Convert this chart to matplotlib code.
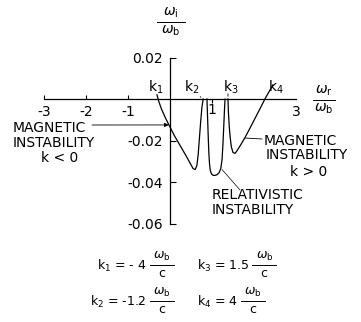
import matplotlib
matplotlib.use("Agg")
import matplotlib.pyplot as plt
import matplotlib.transforms as mtransforms

plt.rcParams['font.family'] = ['DejaVu Sans']
plt.rcParams['mathtext.fontset'] = 'dejavusans'

# growth rate w_i/w_b against real frequency w_r/w_b
mag_neg_wr = [-0.31, -0.27, -0.2, -0.1, 0.0, 0.1, 0.2, 0.3, 0.4, 0.48, 0.55, 0.6,
              0.64, 0.67, 0.7, 0.73, 0.76, 0.79]
mag_neg_wi = [0.002, -0.001, -0.005, -0.0095, -0.0135, -0.0175, -0.021, -0.0245,
              -0.028, -0.031, -0.0335, -0.034, -0.032, -0.027, -0.019, -0.011,
              -0.004, 0.0]

rel_wr = [0.88, 0.895, 0.91, 0.925, 0.94, 0.96, 0.99, 1.03, 1.07, 1.12, 1.17,
          1.21, 1.24, 1.26, 1.28, 1.30, 1.31]
rel_wi = [0.0, -0.009, -0.018, -0.026, -0.031, -0.0345, -0.0362, -0.0368,
          -0.0368, -0.0365, -0.0355, -0.0335, -0.029, -0.022, -0.013, -0.004, 0.0]

mag_pos_wr = [1.38, 1.39, 1.41, 1.43, 1.46, 1.5, 1.55, 1.6, 1.68, 1.78, 1.9,
              2.02, 2.14, 2.26, 2.36, 2.45]
mag_pos_wi = [0.0, -0.006, -0.013, -0.018, -0.023, -0.0258, -0.0262, -0.0248,
              -0.0222, -0.0188, -0.0142, -0.0095, -0.0048, 0.0, 0.0036, 0.0068]

x_ticks = [-3, -2, -1, 3]
x_labels = ['-3', '-2', '-1', '3']
y_ticks = [0.02, -0.02, -0.04, -0.06]
y_labels = ['0.02', '-0.02', '-0.04', '-0.06']

# wave numbers listed under the plot
k_left = ['k$_1$ = - 4', 'k$_2$ = -1.2']
k_right = ['k$_3$ = 1.5', 'k$_4$ = 4']

W, H = 361, 322
fig = plt.figure(figsize=(W / 100, H / 100), dpi=100)
ax = fig.add_axes([0, 0, 1, 1])
ax.patch.set_visible(False)

# data limits chosen so that 1 unit of w_r ~ 42 px and 0.02 of w_i ~ 41.5 px
x0, sx = 170, 42.0
y0, sy = 99, 41.5 / 0.02
ax.set_xlim(-x0 / sx, (W - x0) / sx)
ax.set_ylim(-(H - y0) / sy, y0 / sy)

# pixel coordinates, origin top-left, for the lettering
P = mtransforms.Affine2D().scale(1 / W, -1 / H).translate(0, 1) + fig.transFigure

lw = 0.9
ax.plot(mag_neg_wr, mag_neg_wi, color='k', lw=lw)
ax.plot(rel_wr, rel_wi, color='k', lw=lw)
ax.plot(mag_pos_wr, mag_pos_wi, color='k', lw=lw)

for s in ['top', 'right']:
    ax.spines[s].set_visible(False)
ax.spines['left'].set_position(('data', 0))
ax.spines['left'].set_bounds(-0.06, 0.02)
ax.spines['bottom'].set_position(('data', 0))
ax.spines['bottom'].set_bounds(-3, 3)
for s in ['left', 'bottom']:
    ax.spines[s].set_linewidth(0.9)

ax.set_yticks(y_ticks, labels=y_labels)
ax.set_xticks(x_ticks, labels=x_labels)
ax.set_xticks([1], labels=['1'], minor=True)
ax.xaxis.get_major_ticks()[-1].tick1line.set_visible(False)
ax.tick_params(axis='y', direction='in', length=4, width=0.8, pad=5, labelsize=10)
ax.tick_params(axis='x', which='major', direction='in', length=3, width=0.8,
               pad=4, labelsize=10)
ax.tick_params(axis='x', which='minor', direction='out', length=3, width=0.8,
               pad=0, labelsize=10)

fs = 10


def frac(x, y, num, den, w, size=fs):
    ax.text(x, y - 2, num, transform=P, ha='center', va='bottom', fontsize=size)
    ax.plot([x - w / 2, x + w / 2], [y, y], transform=P, color='k', lw=0.7)
    ax.text(x, y + 2, den, transform=P, ha='center', va='top', fontsize=size)


wb = r'$\omega_{\mathrm{b}}$'
frac(171, 22, r'$\omega_{\mathrm{i}}$', wb, 28)
frac(324, 100, r'$\omega_{\mathrm{r}}$', wb, 22)

# k labels at the branch ends
ax.text(156, 92, r'$\mathrm{k}_1$', transform=P, ha='center', va='baseline', fontsize=fs)
ax.text(192, 92, r'$\mathrm{k}_2$', transform=P, ha='center', va='baseline', fontsize=fs)
ax.text(231, 92, r'$\mathrm{k}_3$', transform=P, ha='center', va='baseline', fontsize=fs)
ax.text(276, 92, r'$\mathrm{k}_4$', transform=P, ha='center', va='baseline', fontsize=fs)
ax.annotate('', xy=(mag_neg_wr[-1], mag_neg_wi[-1]), xytext=(198, 95),
            textcoords=P, arrowprops=dict(arrowstyle='-', lw=0.6))
ax.annotate('', xy=(mag_pos_wr[0], mag_pos_wi[0]), xytext=(228, 91),
            textcoords=P, arrowprops=dict(arrowstyle='-', lw=0.6))

# branch names
ax.text(13, 128, 'MAGNETIC', transform=P, ha='left', va='center', fontsize=fs)
ax.text(13, 143, 'INSTABILITY', transform=P, ha='left', va='center', fontsize=fs)
ax.text(60, 158, 'k < 0', transform=P, ha='center', va='center', fontsize=fs)
ax.annotate('', xy=(-0.03, -0.0125), xytext=(92, 125), textcoords=P,
            arrowprops=dict(arrowstyle='-|>', lw=0.6, mutation_scale=6,
                            color='k', shrinkA=0, shrinkB=0))

ax.text(264, 141, 'MAGNETIC', transform=P, ha='left', va='center', fontsize=fs)
ax.text(266, 155, 'INSTABILITY', transform=P, ha='left', va='center', fontsize=fs)
ax.text(309, 172, 'k > 0', transform=P, ha='center', va='center', fontsize=fs)
ax.annotate('', xy=(1.79, -0.0188), xytext=(262, 139), textcoords=P,
            arrowprops=dict(arrowstyle='-', lw=0.6, shrinkA=0, shrinkB=0))

ax.text(212, 195, 'RELATIVISTIC', transform=P, ha='left', va='center', fontsize=fs)
ax.text(212, 210, 'INSTABILITY', transform=P, ha='left', va='center', fontsize=fs)
ax.annotate('', xy=(1.24, -0.034), xytext=(240, 190), textcoords=P,
            arrowprops=dict(arrowstyle='-', lw=0.5, shrinkA=0, shrinkB=0))

# wave number table: each k value followed by its w_b/c fraction
renderer = fig.canvas.get_renderer()
tfs = 9
for row in range(2):
    yb = 265 + 36 * row
    ax.text(146, yb + 5, k_left[row], transform=P, ha='right', va='baseline',
            fontsize=tfs)
    frac(162, yb, wb, r'$\mathrm{c}$', 24, tfs)
    t = ax.text(197, yb + 5, k_right[row], transform=P, ha='left', va='baseline',
                fontsize=tfs)
    x_end = 197 + t.get_window_extent(renderer).width
    frac(x_end + 15, yb, wb, r'$\mathrm{c}$', 24, tfs)

fig.savefig('out.png', dpi=100)
